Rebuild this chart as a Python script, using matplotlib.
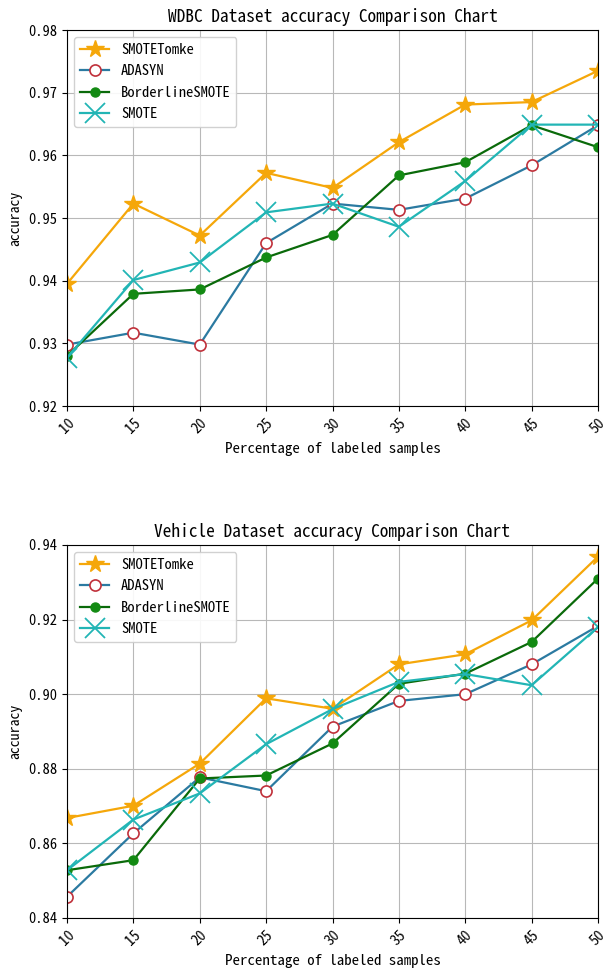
import numpy as np
import matplotlib
matplotlib.use('Agg')
import matplotlib.pyplot as plt
from matplotlib import rcParams

rcParams['font.family'] = ['Noto Sans Mono CJK SC', 'Liberation Mono', 'DejaVu Sans Mono']
rcParams['axes.unicode_minus'] = False

# 横轴：有标签样本比例
x_labels = [10, 15, 20, 25, 30, 35, 40, 45, 50]

# WDBC 数据集
wdbc_smotetomke = [0.9395, 0.9523, 0.9472, 0.9572, 0.9548, 0.9621, 0.9681, 0.9685, 0.9735]
wdbc_adasyn = [0.9298, 0.9317, 0.9298, 0.9460, 0.9523, 0.9513, 0.9531, 0.9584, 0.9648]
wdbc_borderline = [0.9280, 0.9379, 0.9386, 0.9437, 0.9473, 0.9568, 0.9589, 0.9648, 0.9613]
wdbc_smote = [0.9277, 0.9401, 0.9429, 0.9509, 0.9523, 0.9486, 0.9559, 0.9649, 0.9649]

# Vehicle 数据集
veh_smotetomke = [0.8668, 0.8701, 0.8814, 0.8989, 0.8961, 0.9080, 0.9107, 0.9198, 0.9369]
veh_adasyn = [0.8457, 0.8627, 0.8777, 0.8740, 0.8913, 0.8982, 0.9000, 0.9080, 0.9183]
veh_borderline = [0.8528, 0.8555, 0.8774, 0.8782, 0.8868, 0.9028, 0.9055, 0.9140, 0.9310]
veh_smote = [0.8528, 0.8664, 0.8734, 0.8866, 0.8960, 0.9033, 0.9054, 0.9024, 0.9180]


def draw(ax, tomke, adasyn, border, smote, title, ylim, yticks):
    ax.plot(x_labels, tomke, color='#f5a70a', marker='*', markersize=13, lw=1.6, label='SMOTETomke')
    ax.plot(x_labels, adasyn, color='#2b7aa1', marker='o', markersize=8, lw=1.6,
            markerfacecolor='white', markeredgecolor='#c0303a', markeredgewidth=1.2, label='ADASYN')
    ax.plot(x_labels, border, color='#0a6a0a', marker='o', markersize=6.5, lw=1.6,
            markerfacecolor='#138a13', markeredgecolor='#138a13', label='BorderlineSMOTE')
    ax.plot(x_labels, smote, color='#22b5b5', marker='x', markersize=14, mew=1.3, lw=1.6, label='SMOTE')
    ax.set_xlim(10, 50)
    ax.set_ylim(*ylim)
    ax.set_xticks(x_labels)
    ax.set_xticklabels([str(v) for v in x_labels], rotation=45)
    ax.set_yticks(yticks)
    ax.set_yticklabels(['%.2f' % v for v in yticks])
    ax.tick_params(labelsize=10.5)
    ax.grid(True, color='#b8b8b8', lw=0.8)
    ax.set_title(title, fontsize=12.5)
    ax.set_xlabel('Percentage of labeled samples', fontsize=10.7)
    ax.set_ylabel('accuracy', fontsize=10)
    ax.legend(loc='upper left', fontsize=10.5, framealpha=0.9)


fig = plt.figure(figsize=(6.03, 9.69), dpi=100)
ax1 = fig.add_axes([67 / 603, 1 - 406 / 969, 531 / 603, 376 / 969])
ax2 = fig.add_axes([67 / 603, 1 - 918 / 969, 531 / 603, 373 / 969])

draw(ax1, wdbc_smotetomke, wdbc_adasyn, wdbc_borderline, wdbc_smote,
     'WDBC Dataset accuracy Comparison Chart', (0.92, 0.98), np.arange(0.92, 0.981, 0.01))
draw(ax2, veh_smotetomke, veh_adasyn, veh_borderline, veh_smote,
     'Vehicle Dataset accuracy Comparison Chart', (0.84, 0.94), np.arange(0.84, 0.941, 0.02))

fig.savefig('out.png', dpi=100)
